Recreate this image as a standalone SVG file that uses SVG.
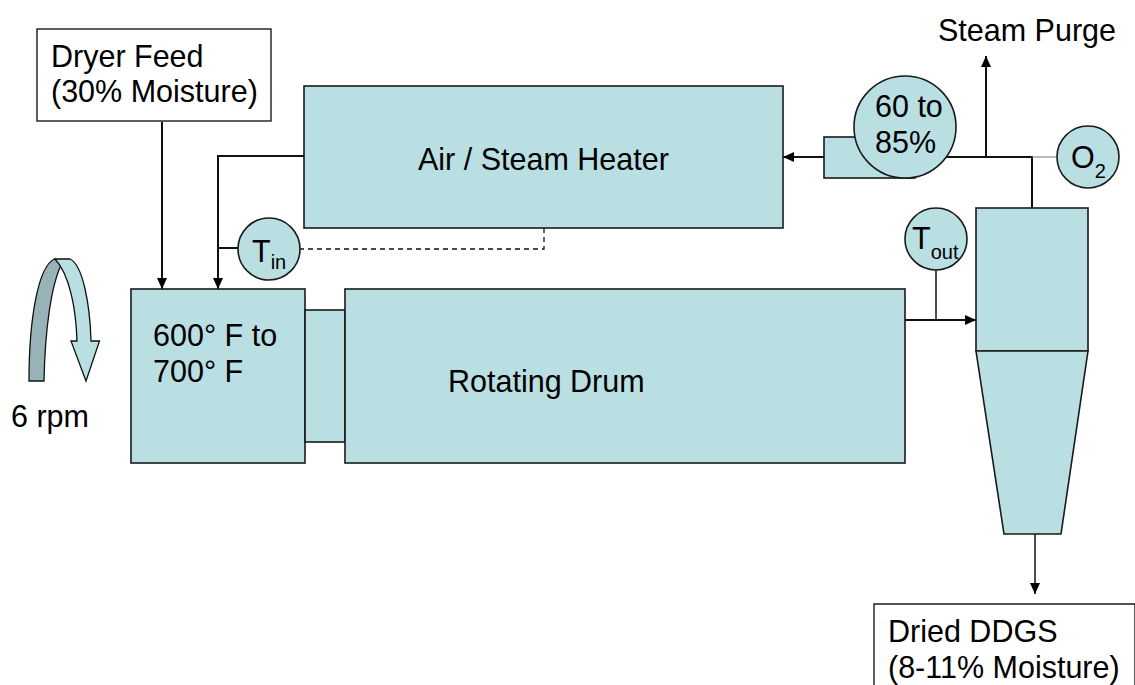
<svg xmlns="http://www.w3.org/2000/svg" width="1135" height="685" viewBox="0 0 1135 685">
<style>
.n{fill:#b9dfe3;stroke:#1a1a1a;stroke-width:1.6}
.b{fill:#fff;stroke:#1a1a1a;stroke-width:1.4}
.l{fill:none;stroke:#111;stroke-width:2}
.t{font-family:"Liberation Sans",Arial,sans-serif;font-size:30.5px;fill:#000}
.s{font-size:20px}
</style>
<defs><marker id="a" markerUnits="userSpaceOnUse" markerWidth="12" markerHeight="11" refX="11" refY="5" orient="auto"><path d="M0 0L11 5L0 10Z" fill="#000"/></marker></defs>
<rect width="1135" height="685" fill="#fff"/>
<g id="connectors">
<path class="l" d="M162 122V289" marker-end="url(#a)"/>
<path class="l" d="M304 156H218V289" marker-end="url(#a)"/>
<path class="l" d="M218 248H240"/>
<path d="M544 228V249H298" fill="none" stroke="#111" stroke-width="1.3" stroke-dasharray="5 4"/>
<path class="l" d="M824 157H783" marker-end="url(#a)"/>
<path class="l" d="M945 157H1032V208"/>
<path class="l" d="M986 157V56" marker-end="url(#a)"/>
<path d="M1032 157H1058" fill="none" stroke="#777" stroke-width="1"/>
<path class="l" d="M905 320H976" marker-end="url(#a)"/>
<path class="l" d="M936 269V320" style="stroke-width:1.500"/>
<path class="l" d="M1035 534V594" marker-end="url(#a)" style="stroke-width:1.500"/>
</g>
<g id="dryer-feed"><rect class="b" x="37" y="29" width="234" height="92"/><text class="t" x="51" y="67">Dryer Feed</text><text class="t" x="51" y="102">(30% Moisture)</text></g>
<g id="heater"><rect class="n" x="304" y="86" width="479" height="142"/><text class="t" x="418" y="170">Air / Steam Heater</text></g>
<g id="fan"><rect class="n" x="824" y="137" width="91" height="41"/><circle class="n" cx="905" cy="127" r="51"/><text class="t" x="875" y="117">60 to</text><text class="t" x="875" y="153">85%</text></g>
<g id="steam-purge"><text class="t" x="938" y="41">Steam Purge</text></g>
<g id="o2"><circle class="n" cx="1088" cy="157" r="31"/><text class="t" x="1071" y="168">O<tspan class="s" dy="10">2</tspan></text></g>
<g id="tin"><circle class="n" cx="269" cy="249" r="31"/><text class="t" x="252" y="262">T<tspan class="s" dy="7">in</tspan></text></g>
<g id="tout"><circle class="n" cx="936" cy="239" r="31"/><text class="t" x="912" y="249">T<tspan class="s" dy="10">out</tspan></text></g>
<g id="burner"><rect class="n" x="131" y="289" width="174" height="174"/><text class="t" x="153" y="346">600° F to</text><text class="t" x="153" y="382">700° F</text></g>
<g id="neck"><rect class="n" x="305" y="310" width="40" height="132"/></g>
<g id="drum"><rect class="n" x="345" y="289" width="560" height="174"/><text class="t" x="448" y="392">Rotating Drum</text></g>
<g id="cyclone"><rect class="n" x="976" y="208" width="112" height="143"/><path class="n" d="M976 351H1088L1061 534H1004Z"/></g>
<g id="dried-ddgs"><path class="b" d="M874 685V604H1135V685"/><text class="t" x="888" y="642">Dried DDGS</text><text class="t" x="888" y="678">(8-11% Moisture)</text></g>
<g id="rotation">
<path d="M29 381H44C45 330 51 285 62 263L55 259C38 265 29 320 29 381Z" fill="#97b3b7" stroke="#111" stroke-width="1.300"/>
<path d="M55 259H70C83 265 90 305 91 341H99.500L86 381L71 341H77C76 310 70 275 55 259Z" fill="#b9dfe3" stroke="#111" stroke-width="1.300"/>
</g>
<g id="speed"><text class="t" x="11" y="427">6 rpm</text></g>
</svg>
